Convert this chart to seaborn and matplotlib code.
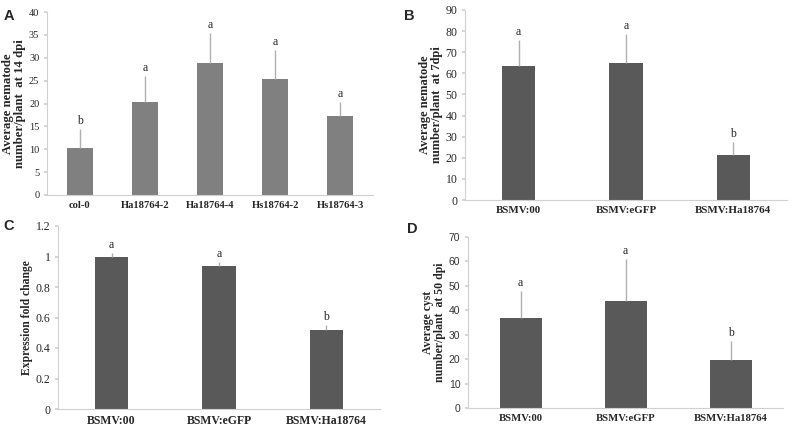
import numpy as np
import pandas as pd
import matplotlib
matplotlib.use("Agg")
import matplotlib.pyplot as plt
import seaborn as sns

# Panel A
a_labels = ["col-0", "Ha18764-2", "Ha18764-4", "Hs18764-2", "Hs18764-3"]
a_means = [10.3, 20.3, 28.8, 25.4, 17.3]
a_err = [4.1, 5.7, 6.6, 6.3, 3.0]
a_sig = ["b", "a", "a", "a", "a"]

# Panels B-D share groups
bsmv_labels = ["BSMV:00", "BSMV:eGFP", "BSMV:Ha18764"]
b_means = [63.3, 64.8, 21.4]
b_err = [12.4, 13.7, 6.2]
b_sig = ["a", "a", "b"]

c_means = [1.0, 0.94, 0.52]
c_err = [0.022, 0.022, 0.03]
c_sig = ["a", "a", "b"]

d_means = [37.0, 44.0, 19.7]
d_err = [11.0, 17.0, 7.8]
d_sig = ["a", "a", "b"]

sns.set_theme(style="white")
plt.rcParams["font.family"] = ["Liberation Serif", "DejaVu Serif"]

W, H = 794, 428
fig = plt.figure(figsize=(W / 100, H / 100), dpi=100)


def px_axes(left, right, top, bottom):
    return fig.add_axes([left / W, (H - bottom) / H, (right - left) / W, (bottom - top) / H])


def panel(ax, labels, means, errs, sig, color, width, ymax, step, ylabel,
          letter, letter_xy, sizes, fmt=None, sans_ticks=False):
    ytick_size, xtick_size, ylabel_size = sizes
    df = pd.DataFrame({"group": labels, "value": means})
    sns.barplot(data=df, x="group", y="value", color=color, width=width,
                saturation=1, errorbar=None, ax=ax, edgecolor="none")
    x = np.arange(len(labels))
    ax.errorbar(x, means, yerr=[np.zeros(len(errs)), errs], fmt="none",
                ecolor="#b0b0b0", elinewidth=1.0, capsize=0)
    for xi, m, e, s in zip(x, means, errs, sig):
        ax.annotate(s, (xi, m + e), xytext=(0, 1.5), textcoords="offset points",
                    ha="center", va="bottom", fontsize=8.5)
    ax.set_xlim(-0.5, len(labels) - 0.5)
    ax.set_ylim(0, ymax)
    ticks = np.arange(0, ymax + step / 2, step)
    ax.set_yticks(ticks)
    if fmt:
        ax.set_yticklabels([fmt(t) for t in ticks])
    ax.set_xlabel("")
    ax.set_ylabel(ylabel, fontsize=ylabel_size, fontweight="bold", labelpad=2,
                  linespacing=1.0)
    for lab in ax.get_xticklabels():
        lab.set_fontweight("bold")
        lab.set_fontsize(xtick_size)
    for lab in ax.get_yticklabels():
        lab.set_fontsize(ytick_size)
        if sans_ticks:
            lab.set_family(["Liberation Sans", "DejaVu Sans"])
            lab.set_color("#333333")
    ax.tick_params(axis="y", length=2.5, color="#d0d0d0", direction="out", pad=3, left=True)
    ax.tick_params(axis="x", length=0, pad=4)
    for side in ["top", "right"]:
        ax.spines[side].set_visible(False)
    for side in ["left", "bottom"]:
        ax.spines[side].set_color("#d0d0d0")
        ax.spines[side].set_linewidth(0.8)
    fig.text(letter_xy[0] / W, 1 - letter_xy[1] / H, letter, fontsize=10.5,
             fontweight="bold", family=["Liberation Sans", "DejaVu Sans"],
             va="top", ha="left")


ax_a = px_axes(47, 373, 12, 195)
panel(ax_a, a_labels, a_means, a_err, a_sig, "#808080", 0.4, 40, 5,
      "Average nematode\nnumber/plant  at 14 dpi", "A", (4, 9), (7.5, 7.6, 9.2))

ax_b = px_axes(465, 787, 10, 200)
panel(ax_b, bsmv_labels, b_means, b_err, b_sig, "#595959", 0.31, 90, 10,
      "Average nematode\nnumber/plant  at 7dpi", "B", (404, 9), (8.5, 7.9, 9.0))

ax_c = px_axes(58, 380, 226, 409)
panel(ax_c, bsmv_labels, c_means, c_err, c_sig, "#595959", 0.31, 1.2, 0.2,
      "Expression fold change", "C", (3, 219), (8.5, 8.5, 8.4),
      fmt=lambda t: f"{t:g}")

ax_d = px_axes(468, 783, 237, 408)
panel(ax_d, bsmv_labels, d_means, d_err, d_sig, "#595959", 0.4, 70, 10,
      "Average cyst\nnumber/plant  at 50 dpi", "D", (407, 222), (7.5, 7.7, 8.5),
      sans_ticks=True)

fig.savefig("out.png", dpi=100)
